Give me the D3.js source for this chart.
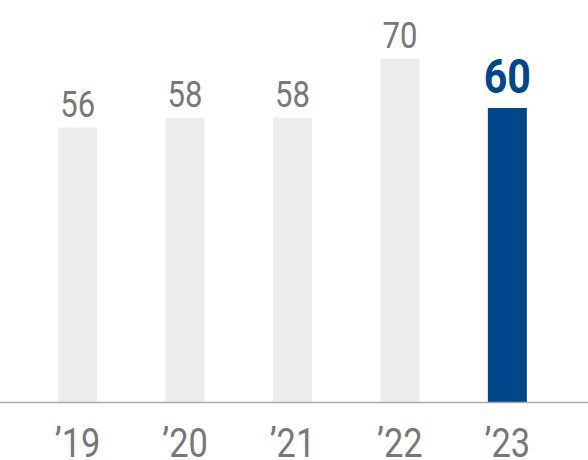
<!DOCTYPE html>
<html><head><meta charset="utf-8">
<script src="https://cdn.jsdelivr.net/npm/d3@7"></script>
<style>body{margin:0;background:#fff}svg{display:block}</style>
</head><body>
<svg id="c" width="588" height="460"></svg>
<script>
const categories = ["’19","’20","’21","’22","’23"];
const values = [56, 58, 58, 70, 60];
const highlight = "’23";

const svg = d3.select("#c");
const x = d3.scaleBand().domain(categories).range([24, 561]).paddingInner(0.637).paddingOuter(0.318);
const y = d3.scaleLinear().domain([0, 70]).range([402, 59]);
const data = categories.map((c,i)=>({c, v: values[i]}));
const sx = 0.84;

svg.selectAll("rect.bar").data(data).join("rect")
  .attr("x", d=>x(d.c)).attr("width", x.bandwidth())
  .attr("y", d=>y(d.v)).attr("height", d=>y(0)-y(d.v))
  .attr("fill", d=>d.c===highlight?"#00468b":"#ececec");

svg.append("line").attr("x1",0).attr("x2",588).attr("y1",402.5).attr("y2",402.5)
  .attr("stroke","#aaaaaa").attr("stroke-width",1.5);

svg.selectAll("text.val").data(data).join("text")
  .attr("transform", d=>`translate(${x(d.c)+x.bandwidth()/2},${y(d.v) - (d.c===highlight?15:11)}) scale(${sx},1)`)
  .attr("text-anchor","middle")
  .attr("font-family","Roboto, sans-serif")
  .attr("font-size", d=>d.c===highlight?49:37)
  .attr("font-weight", d=>d.c===highlight?700:400)
  .attr("fill", d=>d.c===highlight?"#00468b":"#777777")
  .text(d=>d.v);

svg.selectAll("text.cat").data(categories).join("text")
  .attr("transform", d=>`translate(${x(d)+x.bandwidth()/2},457) scale(${sx},1)`)
  .attr("text-anchor","middle")
  .attr("font-family","Roboto, sans-serif")
  .attr("font-size",41)
  .attr("fill","#777777")
  .text(d=>d);
</script>
</body></html>
